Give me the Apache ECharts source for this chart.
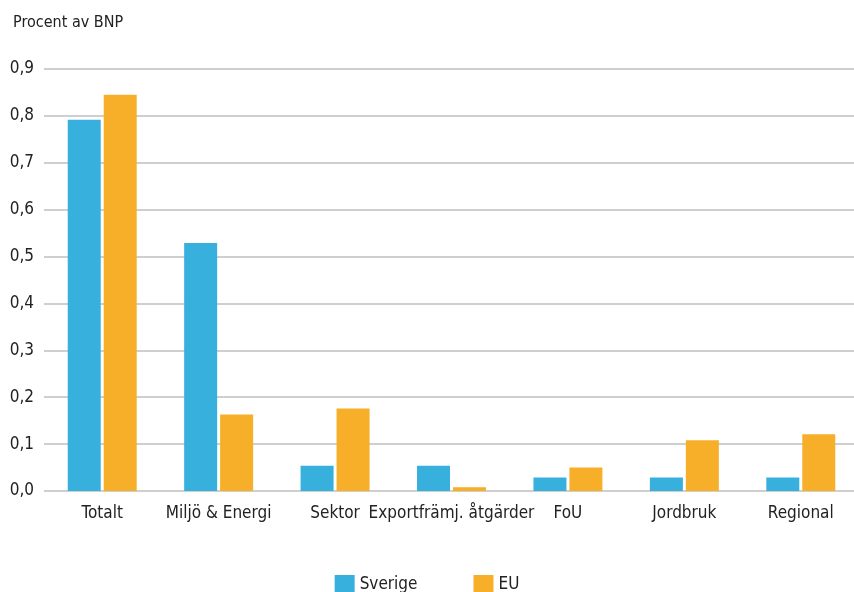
<!DOCTYPE html>
<html>
<head>
<meta charset="utf-8">
<script src="https://cdn.jsdelivr.net/npm/echarts@6/dist/echarts.min.js"></script>
<style>
  html, body { margin: 0; padding: 0; background: #fff; }
  #chart { width: 854px; height: 592px; }
</style>
</head>
<body>
<div id="chart"></div>
<script>
const categories = ['Totalt', 'Miljö & Energi', 'Sektor', 'Exportfrämj. åtgärder', 'FoU', 'Jordbruk', 'Regional']
const sverige = [0.792, 0.529, 0.054, 0.054, 0.029, 0.029, 0.029]
const eu = [0.845, 0.163, 0.176, 0.008, 0.050, 0.108, 0.121]
const seriesNames = ['Sverige', 'EU']

const font = '"Liberation Sans Narrow", "DejaVu Sans Condensed", "Roboto Condensed", sans-serif'

const chart = echarts.init(document.getElementById('chart'))

chart.setOption({
  animation: false,
  textStyle: { fontFamily: font },
  title: {
    text: 'Procent av BNP',
    left: 8,
    top: 10,
    textStyle: { fontFamily: font, fontSize: 16, fontWeight: 'normal', color: '#222' }
  },
  grid: {
    left: 44,
    width: 815,
    top: 69,
    bottom: 101,
    outerBoundsMode: 'none'
  },
  legend: {
    data: seriesNames,
    left: 'center',
    top: 570,
    itemWidth: 20,
    itemHeight: 20,
    itemGap: 56,
    icon: 'rect',
    textStyle: { fontFamily: font, fontSize: 17, color: '#222' }
  },
  xAxis: {
    type: 'category',
    data: categories,
    axisLine: { show: false },
    axisTick: { show: false },
    axisLabel: { fontFamily: font, fontSize: 17, color: '#222', margin: 14, interval: 0 }
  },
  yAxis: {
    type: 'value',
    min: 0,
    max: 0.9,
    interval: 0.1,
    axisLine: { show: false },
    axisTick: { show: false },
    splitLine: { lineStyle: { color: '#cfcfcf', width: 2 } },
    axisLabel: {
      fontFamily: font,
      fontSize: 17,
      color: '#222',
      margin: 10,
      formatter: v => v.toFixed(1).replace('.', ',')
    }
  },
  series: [{
    name: 'Sverige',
    type: 'bar',
    data: sverige,
    barWidth: 33,
    barGap: '9%',
    itemStyle: { color: '#38b0de' }
  }, {
    name: 'EU',
    type: 'bar',
    data: eu,
    barWidth: 33,
    itemStyle: { color: '#f7ae29' }
  }]
})
</script>
</body>
</html>
